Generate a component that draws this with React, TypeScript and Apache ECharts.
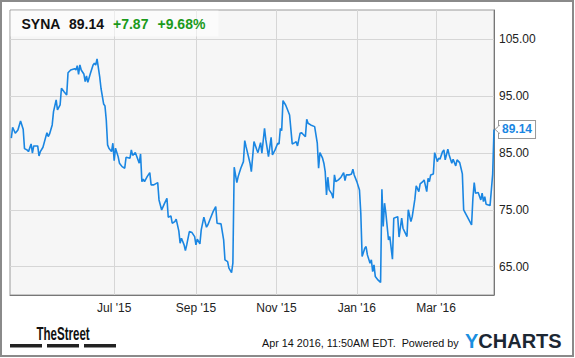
import React, { useEffect, useRef } from "react";
import * as echarts from "echarts";

const dates = [
  "2015-04-14","2015-04-15","2015-04-17","2015-04-19","2015-04-21","2015-04-23","2015-04-24","2015-04-26","2015-04-27","2015-04-29","2015-04-30",
  "2015-05-01","2015-05-04","2015-05-05","2015-05-06","2015-05-08","2015-05-11","2015-05-12","2015-05-13","2015-05-15","2015-05-16","2015-05-18",
  "2015-05-19","2015-05-21","2015-05-22","2015-05-24","2015-05-26","2015-05-27","2015-05-29",
  "2015-06-01","2015-06-02","2015-06-03","2015-06-04","2015-06-05","2015-06-06","2015-06-08","2015-06-09","2015-06-10","2015-06-11","2015-06-13",
  "2015-06-15","2015-06-16","2015-06-17","2015-06-18","2015-06-20","2015-06-21","2015-06-23","2015-06-24","2015-06-25","2015-06-26","2015-06-27",
  "2015-06-29","2015-06-30",
  "2015-07-01","2015-07-02","2015-07-04","2015-07-05","2015-07-07","2015-07-09","2015-07-10","2015-07-13","2015-07-14","2015-07-15","2015-07-17",
  "2015-07-18","2015-07-20","2015-07-21","2015-07-22","2015-07-23","2015-07-24","2015-07-26","2015-07-28","2015-07-29","2015-07-31",
  "2015-08-03","2015-08-04","2015-08-06","2015-08-08","2015-08-10","2015-08-11","2015-08-13","2015-08-14","2015-08-16","2015-08-17","2015-08-19",
  "2015-08-20","2015-08-21","2015-08-23","2015-08-24","2015-08-25","2015-08-27","2015-08-29","2015-08-31",
  "2015-09-01","2015-09-02","2015-09-04","2015-09-05","2015-09-07","2015-09-09","2015-09-10","2015-09-12","2015-09-14","2015-09-16","2015-09-17",
  "2015-09-20","2015-09-22","2015-09-23","2015-09-25","2015-09-26","2015-09-28","2015-09-29","2015-09-30",
  "2015-10-02","2015-10-03","2015-10-05","2015-10-07","2015-10-08","2015-10-09","2015-10-12","2015-10-13","2015-10-15","2015-10-17","2015-10-18",
  "2015-10-20","2015-10-21","2015-10-23","2015-10-24","2015-10-26","2015-10-28","2015-10-29","2015-10-31",
  "2015-11-02","2015-11-03","2015-11-04","2015-11-05","2015-11-06","2015-11-08","2015-11-09","2015-11-11","2015-11-13","2015-11-15","2015-11-16",
  "2015-11-17","2015-11-19","2015-11-20","2015-11-21","2015-11-23","2015-11-24","2015-11-25","2015-11-27","2015-11-30",
  "2015-12-02","2015-12-03","2015-12-04","2015-12-06","2015-12-07","2015-12-08","2015-12-09","2015-12-10","2015-12-11","2015-12-13","2015-12-14",
  "2015-12-15","2015-12-16","2015-12-18","2015-12-20","2015-12-22","2015-12-23","2015-12-24","2015-12-26","2015-12-28","2015-12-29","2015-12-30",
  "2016-01-01","2016-01-03","2016-01-04","2016-01-05","2016-01-07","2016-01-08","2016-01-09","2016-01-11","2016-01-12","2016-01-13","2016-01-14",
  "2016-01-15","2016-01-17","2016-01-19","2016-01-20","2016-01-21","2016-01-22","2016-01-23","2016-01-25","2016-01-26","2016-01-28","2016-01-29",
  "2016-02-01","2016-02-02","2016-02-04","2016-02-05","2016-02-08","2016-02-09","2016-02-11","2016-02-12","2016-02-14","2016-02-15","2016-02-17",
  "2016-02-18","2016-02-20","2016-02-21","2016-02-23","2016-02-24","2016-02-25","2016-02-26","2016-02-28","2016-02-29",
  "2016-03-02","2016-03-03","2016-03-04","2016-03-06","2016-03-07","2016-03-08","2016-03-10","2016-03-11","2016-03-13","2016-03-14","2016-03-16",
  "2016-03-17","2016-03-19","2016-03-20","2016-03-21","2016-03-22","2016-03-24","2016-03-26","2016-03-28","2016-03-29","2016-03-30","2016-03-31",
  "2016-04-02","2016-04-04","2016-04-05","2016-04-06","2016-04-07","2016-04-08","2016-04-11","2016-04-12","2016-04-13","2016-04-14",
];

const prices = [
  87.59, 89.52, 88.47, 89.05, 90.63, 89.17, 85.76, 85.53, 85.23, 86.58, 84.95,
  86.23, 86.23, 84.47, 85.23, 86.0, 88.57, 87.87, 88.34, 89.93, 92.26, 94.32,
  92.56, 93.44, 96.38, 95.78, 95.2, 99.12, 99.6,
  99.83, 99.6, 100.36, 98.84, 100.48, 99.6, 98.9, 97.54, 98.54, 97.44, 99.02,
  100.48, 100.78, 100.48, 101.53, 98.42, 96.38, 93.62, 93.27, 90.8, 86.41, 85.83,
  85.23, 86.71,
  83.65, 85.83, 84.35, 83.19, 82.59, 82.31, 84.24, 84.07, 85.53, 84.56, 85.05,
  84.47, 83.19, 84.82, 79.95, 80.37, 79.95, 80.83, 81.53, 79.37, 79.37,
  79.78, 76.73, 74.97, 76.03, 77.03, 73.69, 73.92, 72.63, 72.91, 73.34, 71.28,
  69.12, 70.0, 68.82, 67.81, 68.82, 71.16, 70.98, 70.28,
  68.82, 69.82, 68.99, 71.46, 73.69, 71.93, 72.33, 73.51, 74.67, 75.55, 72.63,
  72.51, 69.7, 66.18, 65.88, 64.72, 63.94, 65.6, 82.48,
  79.78, 80.83, 82.31, 83.47, 87.16, 86.1, 83.19, 81.71, 86.99, 85.65, 85.05,
  86.81, 84.95, 89.34, 87.29, 84.35, 87.76, 84.65, 85.53,
  86.71, 86.58, 89.34, 88.92, 94.2, 93.44, 92.86, 91.68, 86.58, 86.81, 86.99,
  86.23, 88.47, 88.57, 88.34, 87.87, 90.93, 90.22, 89.93, 89.63,
  86.71, 82.31, 85.05, 84.07, 83.19, 81.71, 77.61, 80.73, 78.49, 77.79, 77.03,
  81.13, 79.95, 80.25, 80.73, 81.53, 80.13, 81.13, 81.13, 81.31, 82.13, 81.13,
  79.95, 78.49, 74.39, 66.76, 68.24, 68.52, 67.06, 65.6, 66.18, 64.12, 65.3,
  63.24, 62.66, 62.19, 78.61, 72.04, 76.15, 74.39, 69.7, 70.28, 66.3, 73.51,
  73.79, 70.2, 73.51, 71.75, 70.28, 75.0, 72.91, 73.79, 76.86, 79.2, 78.19,
  79.55, 79.95, 80.25, 78.19, 80.55, 79.95, 81.13, 81.31, 85.05,
  83.47, 84.07, 83.89, 85.23, 85.53, 83.77, 85.65, 84.65, 83.19, 83.89, 82.72,
  83.77, 83.29, 82.31, 81.31, 74.97, 74.09, 73.21, 72.33, 77.03, 79.78, 77.91,
  78.02, 76.73, 77.91, 76.43, 77.31, 75.98, 75.73, 78.49, 81.27, 89.14,
];

const yTicks = [65, 75, 85, 95, 105];
const monthTicks = ["2015-07-01", "2015-09-01", "2015-11-01", "2016-01-01", "2016-03-01"];
const monthLabels = ["Jul '15", "Sep '15", "Nov '15", "Jan '16", "Mar '16"];
const xMin = "2015-04-13";
const xMax = "2016-04-14";

const ticker = "SYNA";
const lastPriceText = "89.14";
const changeText = "+7.87";
const changePctText = "+9.68%";
const timestampText = "Apr 14 2016, 11:50AM EDT.  Powered by";

const LINE = "#1a86e2";
const FONT = "'Liberation Sans', Arial, Helvetica, sans-serif";

const ts = (s: string) => new Date(s + "T00:00:00").getTime();

export default function App() {
  const ref = useRef<HTMLDivElement>(null);

  useEffect(() => {
    if (!ref.current) return;
    const chart = echarts.init(ref.current, null, { renderer: "svg" });
    const tickTs = monthTicks.map(ts);
    const data = dates.map((d, i) => [ts(d), prices[i]]);

    const option: any = {
      animation: false,
      backgroundColor: "#ffffff",
      grid: {
        left: 10,
        top: 10,
        right: 81,
        bottom: 63,
        show: true,
        backgroundColor: "#f6f6f6",
        borderColor: "#999",
        borderWidth: 1,
      },
      xAxis: {
        type: "value",
        min: ts(xMin),
        max: ts(xMax),
        axisLine: { show: true, lineStyle: { color: "#777", width: 1 } },
        axisTick: { show: false, customValues: tickTs },
        splitLine: { show: true, lineStyle: { color: "#d6d6d6", width: 1 } },
        axisLabel: {
          customValues: tickTs,
          color: "#222",
          fontSize: 12,
          fontFamily: FONT,
          margin: 7,
          formatter: (v: number) => {
            const i = tickTs.indexOf(v);
            return i >= 0 ? monthLabels[i] : "";
          },
        },
      },
      yAxis: {
        type: "value",
        position: "right",
        min: 60,
        max: 110.15,
        axisLine: { show: true, lineStyle: { color: "#777", width: 1 } },
        axisTick: { show: false, customValues: yTicks },
        splitLine: { show: true, lineStyle: { color: "#d6d6d6", width: 1 } },
        axisLabel: {
          customValues: yTicks,
          color: "#222",
          fontSize: 12,
          fontFamily: FONT,
          margin: 5,
          formatter: (v: number) => v.toFixed(2),
        },
      },
      series: [
        {
          type: "line",
          data,
          showSymbol: false,
          symbol: "none",
          lineStyle: { color: LINE, width: 1.6 },
          endLabel: {
            show: true,
            distance: 5,
            formatter: (p: any) => p.value[1].toFixed(2),
            color: LINE,
            fontWeight: "bold",
            fontSize: 12,
            fontFamily: FONT,
            backgroundColor: "#fff",
            borderColor: "#999",
            borderWidth: 1,
            padding: [3, 3, 2, 3],
          },
        },
      ],
      graphic: {
        elements: [
          {
            id: "frame",
            type: "rect",
            shape: { x: 1, y: 1, width: 572, height: 355 },
            style: { fill: "none", stroke: "#8a8a8a", lineWidth: 2 },
            z: 100,
          },
          {
            id: "hdrbox",
            type: "rect",
            shape: { x: 10.5, y: 10.5, width: 208, height: 26 },
            style: { fill: "rgba(255,255,255,0.55)" },
            z: 90,
          },
          {
            id: "t1",
            type: "text",
            x: 21.5,
            y: 24,
            style: { text: ticker, fill: "#111", font: `bold 14px ${FONT}`, textVerticalAlign: "middle" },
            z: 95,
          },
          {
            id: "t2",
            type: "text",
            x: 69,
            y: 24,
            style: { text: lastPriceText, fill: "#111", font: `bold 14px ${FONT}`, textVerticalAlign: "middle" },
            z: 95,
          },
          {
            id: "t3",
            type: "text",
            x: 113,
            y: 24,
            style: { text: changeText, fill: "#1b9a1b", font: `bold 14px ${FONT}`, textVerticalAlign: "middle" },
            z: 95,
          },
          {
            id: "t4",
            type: "text",
            x: 157.5,
            y: 24,
            style: { text: changePctText, fill: "#1b9a1b", font: `bold 14px ${FONT}`, textVerticalAlign: "middle" },
            z: 95,
          },
          {
            id: "street",
            type: "text",
            x: 36.5,
            y: 333,
            scaleX: 0.64,
            style: {
              text: "TheStreet",
              fill: "#111",
              font: `bold 18px ${FONT}`,
              textVerticalAlign: "middle",
            },
          },
          { id: "bar1", type: "rect", shape: { x: 10, y: 344, width: 32, height: 3.5 }, style: { fill: "#222" } },
          { id: "bar2", type: "rect", shape: { x: 47, y: 344, width: 32, height: 3.5 }, style: { fill: "#222" } },
          { id: "bar3", type: "rect", shape: { x: 84, y: 344, width: 32, height: 3.5 }, style: { fill: "#222" } },
          {
            id: "stamp",
            type: "text",
            x: 262,
            y: 343,
            style: { text: timestampText, fill: "#111", font: `10.8px ${FONT}`, textVerticalAlign: "middle" },
          },
          {
            id: "ycharts",
            type: "text",
            x: 465,
            y: 341,
            style: {
              text: "{y|Y}{c|CHARTS}",
              textVerticalAlign: "middle",
              rich: {
                y: { fill: "#1a8fe0", font: `bold 20px ${FONT}` },
                c: { fill: "#1c2733", font: `bold 20px ${FONT}` },
              },
            },
          },
        ],
      },
    };

    chart.setOption(option);

    const lastIdx = dates.length - 1;
    const p = chart.convertToPixel({ gridIndex: 0 }, [ts(dates[lastIdx]), prices[lastIdx]]) as number[];
    if (p && isFinite(p[0])) {
      chart.setOption({
        graphic: {
          elements: [
            {
              id: "ptr",
              type: "polygon",
              shape: { points: [[p[0] + 1, p[1]], [p[0] + 5.5, p[1] - 4], [p[0] + 5.5, p[1] + 4]] },
              style: { fill: "#fff", stroke: "#999", lineWidth: 1 },
              z: 200,
            },
            {
              id: "ptrcover",
              type: "rect",
              shape: { x: p[0] + 4.5, y: p[1] - 3.3, width: 2, height: 6.6 },
              style: { fill: "#fff" },
              z: 201,
            },
          ],
        },
      });
    }

    return () => chart.dispose();
  }, []);

  return <div ref={ref} style={{ width: 575, height: 358, position: "absolute", left: 0, top: 0 }} />;
}
